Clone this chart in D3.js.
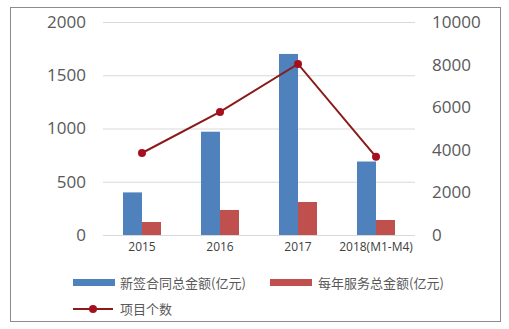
<!DOCTYPE html>
<html>
<head>
<meta charset="utf-8">
<script src="https://cdn.jsdelivr.net/npm/d3@7"></script>
<style>
  body { margin: 0; background: #fff; }
  text { font-family: "Open Sans", "Noto Sans CJK SC", sans-serif; }
</style>
</head>
<body>
<div id="chart"></div>
<script>
const years = ['2015', '2016', '2017', '2018(M1-M4)'];
const contractAmount = [400, 970, 1700, 690];
const serviceAmount = [122, 235, 310, 141];
const projectCount = [3850, 5780, 8030, 3670];
const leftTicks = [0, 500, 1000, 1500, 2000];
const rightTicks = [0, 2000, 4000, 6000, 8000, 10000];
const seriesNames = ['新签合同总金额(亿元)', '每年服务总金额(亿元)', '项目个数'];

const width = 509, height = 329;
const colors = { blue: '#4f81bd', red: '#c0504d', line: '#8b1a1a', dot: '#a50f1e' };

const svg = d3.select('#chart').append('svg')
  .attr('width', width)
  .attr('height', height);

// outer frame
svg.append('rect')
  .attr('x', 10.5).attr('y', 7.5)
  .attr('width', 490).attr('height', 314)
  .attr('fill', '#fff')
  .attr('stroke', '#8c8c8c');

const x0 = d3.scaleBand().domain(years).range([103, 415]);
const x1 = d3.scaleBand().domain([0, 1]).range([0, 38]);
const yLeft = d3.scaleLinear().domain([0, 2000]).range([235, 22]);
const yRight = d3.scaleLinear().domain([0, 10000]).range([235, 22]);

// gridlines
svg.append('g')
  .selectAll('line')
  .data(leftTicks)
  .join('line')
  .attr('x1', 103).attr('x2', 415)
  .attr('y1', d => yLeft(d) + 0.5).attr('y2', d => yLeft(d) + 0.5)
  .attr('stroke', '#d9d9d9');

// left axis
const leftAxis = svg.append('g')
  .attr('transform', 'translate(86,0)')
  .call(d3.axisLeft(yLeft).tickValues(leftTicks).tickFormat(d3.format('d')).tickSize(0).tickPadding(0));
leftAxis.select('.domain').remove();
leftAxis.selectAll('text').attr('fill', '#595959').style('font-size', '17px');

// right axis
const rightAxis = svg.append('g')
  .attr('transform', 'translate(432,0)')
  .call(d3.axisRight(yRight).tickValues(rightTicks).tickFormat(d3.format('d')).tickSize(0).tickPadding(0));
rightAxis.select('.domain').remove();
rightAxis.selectAll('text').attr('fill', '#595959').style('font-size', '17px');

// x axis labels
const xAxis = svg.append('g')
  .attr('transform', 'translate(0,240)')
  .call(d3.axisBottom(x0).tickSize(0).tickPadding(2));
xAxis.select('.domain').remove();
xAxis.selectAll('text').attr('fill', '#404040').style('font-size', '12px');

// bars
const groups = svg.append('g')
  .selectAll('g')
  .data(years)
  .join('g')
  .attr('transform', d => `translate(${x0(d) + x0.bandwidth() / 2 - 19},0)`);

groups.append('rect')
  .attr('x', x1(0))
  .attr('width', x1.bandwidth())
  .attr('y', (d, i) => yLeft(contractAmount[i]))
  .attr('height', (d, i) => yLeft(0) - yLeft(contractAmount[i]))
  .attr('fill', colors.blue);

groups.append('rect')
  .attr('x', x1(1))
  .attr('width', x1.bandwidth())
  .attr('y', (d, i) => yLeft(serviceAmount[i]))
  .attr('height', (d, i) => yLeft(0) - yLeft(serviceAmount[i]))
  .attr('fill', colors.red);

// line of project count
const cx = d => x0(d) + x0.bandwidth() / 2;
const line = d3.line()
  .x((d, i) => cx(years[i]))
  .y(d => yRight(d));

svg.append('path')
  .datum(projectCount)
  .attr('d', line)
  .attr('fill', 'none')
  .attr('stroke', colors.line)
  .attr('stroke-width', 2);

svg.append('g')
  .selectAll('circle')
  .data(projectCount)
  .join('circle')
  .attr('cx', (d, i) => cx(years[i]))
  .attr('cy', d => yRight(d))
  .attr('r', 4)
  .attr('fill', colors.dot);

// legend
const legend = svg.append('g');
legend.append('rect').attr('x', 73).attr('y', 279).attr('width', 42).attr('height', 7).attr('fill', colors.blue);
legend.append('text').attr('x', 120).attr('y', 288).text(seriesNames[0]);
legend.append('rect').attr('x', 270).attr('y', 279).attr('width', 42).attr('height', 7).attr('fill', colors.red);
legend.append('text').attr('x', 318).attr('y', 288).text(seriesNames[1]);
legend.append('line').attr('x1', 73).attr('x2', 113).attr('y1', 309).attr('y2', 309)
  .attr('stroke', colors.line).attr('stroke-width', 2);
legend.append('circle').attr('cx', 93).attr('cy', 309).attr('r', 4).attr('fill', colors.dot);
legend.append('text').attr('x', 120).attr('y', 314).text(seriesNames[2]);
legend.selectAll('text')
  .attr('fill', '#595959')
  .style('font-size', '13px')
  .style('font-family', '"Noto Sans CJK SC", sans-serif');
</script>
</body>
</html>
